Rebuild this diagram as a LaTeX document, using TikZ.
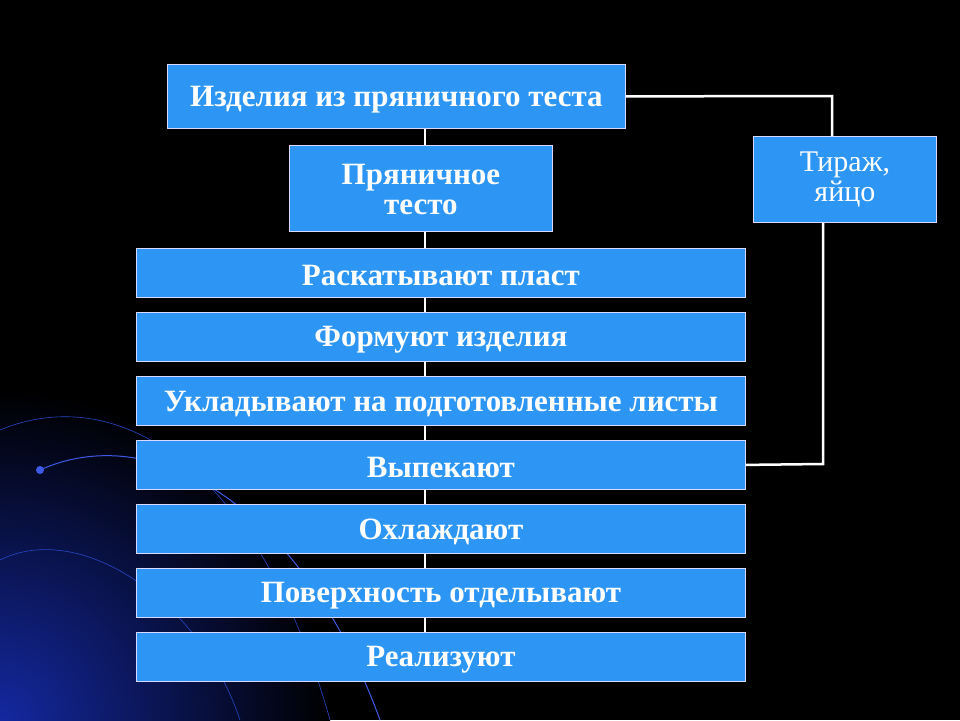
\documentclass[tikz,border=0pt]{standalone}
\usepackage{fontspec}
\usetikzlibrary{backgrounds}
\setmainfont{Liberation Serif}
\definecolor{boxblue}{RGB}{45,150,245}
\definecolor{sw1}{RGB}{60,90,230}
\definecolor{sw2}{RGB}{40,70,200}
\definecolor{swc}{RGB}{20,40,160}
\begin{document}
\begin{tikzpicture}[x=1pt,y=-1pt,
  box/.style={draw=white!85!blue,line width=0.8pt,fill=boxblue,inner sep=0pt,anchor=north west},
  lbl/.style={text=white,font=\bfseries\fontsize{31}{36}\selectfont,yshift=-3pt},
  link/.style={draw=white,line width=2.5pt},
  stem/.style={draw=white,line width=2.5pt}]
\useasboundingbox (0,0) rectangle (960,720);
\node[box,minimum width=458,minimum height=64] (top) at (167,64) {};
\node[box,minimum width=263,minimum height=86] (pt) at (289,145) {};
\node[box,minimum width=183,minimum height=86] (tir) at (753,136) {};
\foreach \i/\y in {1/248,2/312,3/376,4/440,5/504,6/568,7/632}
  \node[box,minimum width=609,minimum height=49] (s\i) at (136,\y) {};
\coordinate (sx) at (425,0);
\begin{scope}[on background layer]
\fill[black] (0,0) rectangle (960,720);
\begin{scope}
\clip (0,0) rectangle (960,720);
\shade[inner color=swc,outer color=black] (0,720) circle (330);
\draw[sw1,line width=1pt] (40,470) .. controls (150,420) and (300,500) .. (380,720);
\draw[sw2,line width=0.6pt] (0,430) .. controls (120,380) and (260,470) .. (330,720);
\draw[sw2,line width=0.6pt] (0,560) .. controls (80,520) and (200,600) .. (240,720);
\fill[sw1] (40,470) circle (4);
\end{scope}
\draw[stem] (top.south -| sx) -- (s7.north -| sx);
\end{scope}
\node[lbl] at (top.center) {Изделия из пряничного теста};
\node[lbl,align=center,yshift=2pt] at (pt.center) {Пряничное\\[-6pt]тесто};
\node[text=white,font=\fontsize{30}{36}\selectfont,align=center] at (tir.center) {Тираж,\\[-6pt]яйцо};
\node[lbl] at (s1.center) {Раскатывают пласт};
\node[lbl] at (s2.center) {Формуют изделия};
\node[lbl] at (s3.center) {Укладывают на подготовленные листы};
\node[lbl] at (s4.center) {Выпекают};
\node[lbl] at (s5.center) {Охлаждают};
\node[lbl] at (s6.center) {Поверхность отделывают};
\node[lbl] at (s7.center) {Реализуют};
\coordinate (c1) at (832,96);
\coordinate (c2) at (823,464);
\draw[link] (top.east) -- (c1) -- (tir.north -| c1);
\draw[link] (tir.south -| c2) -- (c2) -- (s4.east);
\end{tikzpicture}
\end{document}
